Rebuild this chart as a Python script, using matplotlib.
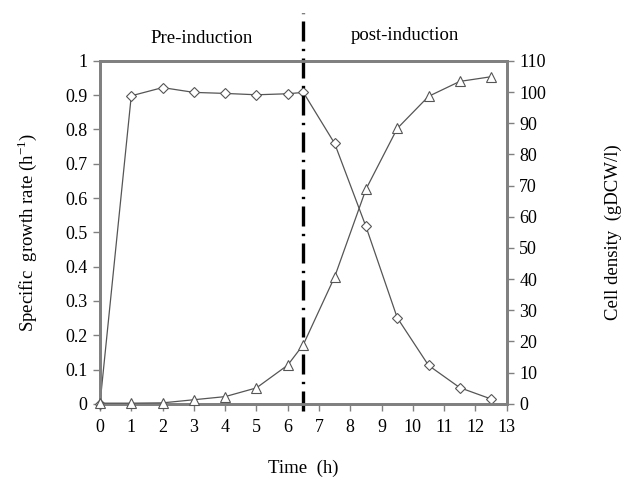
import matplotlib
matplotlib.use("Agg")
import matplotlib.pyplot as plt

plt.rcParams['font.family'] = ['Liberation Serif', 'DejaVu Serif']

# sampling times (h)
time = [0, 1, 2, 3, 4, 5, 6, 6.5, 7.5, 8.5, 9.5, 10.5, 11.5, 12.5]
# specific growth rate (1/h)
growth = [0.0, 0.898, 0.922, 0.908, 0.905, 0.901, 0.904, 0.908,
          0.759, 0.517, 0.251, 0.112, 0.047, 0.014]
# cell density (gDCW/l)
density = [0.2, 0.2, 0.3, 1.3, 2.3, 5.1, 12.4, 19.0,
           40.7, 68.8, 88.3, 98.6, 103.4, 104.9]
induction_time = 6.5

fig = plt.figure(figsize=(6.21, 4.79), dpi=100)
ax = fig.add_axes([0.161, 0.157, 0.655, 0.716])
ax2 = ax.twinx()

ax.plot(time, growth, color='#555555', lw=0.9, marker='D', ms=5.5,
        mfc='white', mec='#555555', mew=0.8, clip_on=False, zorder=3)
ax2.plot(time, density, color='#555555', lw=0.9, marker='^', ms=7.5,
         mfc='white', mec='#555555', mew=0.8, clip_on=False, zorder=3)

ax.set_xlim(0, 13)
ax.set_ylim(0, 1)
ax2.set_ylim(0, 110)
ax.set_xticks(range(0, 14))
ax.set_yticks([i / 10 for i in range(11)])
ax.set_yticklabels(['0'] + ['%.1f' % (i / 10) for i in range(1, 10)] + ['1'])
ax2.set_yticks(range(0, 111, 10))

for a in (ax, ax2):
    for s in a.spines.values():
        s.set_color('#808080')
        s.set_linewidth(2)
    a.tick_params(direction='out', length=5, width=1, color='#808080',
                  labelsize=13, pad=4)
ax.tick_params(axis='x', pad=6)

# induction line, drawn past the frame
ax.plot([induction_time, induction_time], [-0.02, 1.14], color='black',
        lw=2.4, ls=(0, (6, 2.2, 0.7, 2.2)), clip_on=False, zorder=4)

ax.set_xlabel('Time  (h)', fontsize=13.5, labelpad=17)
ax.set_ylabel('Specific  growth rate (h$^{\\mathregular{-1}}$)', fontsize=13.5,
              labelpad=19)
ax2.set_ylabel('Cell density  (gDCW/l)', fontsize=13.5, labelpad=42)

ax.text(3.25, 1.065, 'Pre-induction', fontsize=13.5, ha='center', va='center')
ax.text(9.75, 1.075, 'post-induction', fontsize=13.5, ha='center', va='center')

fig.savefig('out.png', dpi=100)
